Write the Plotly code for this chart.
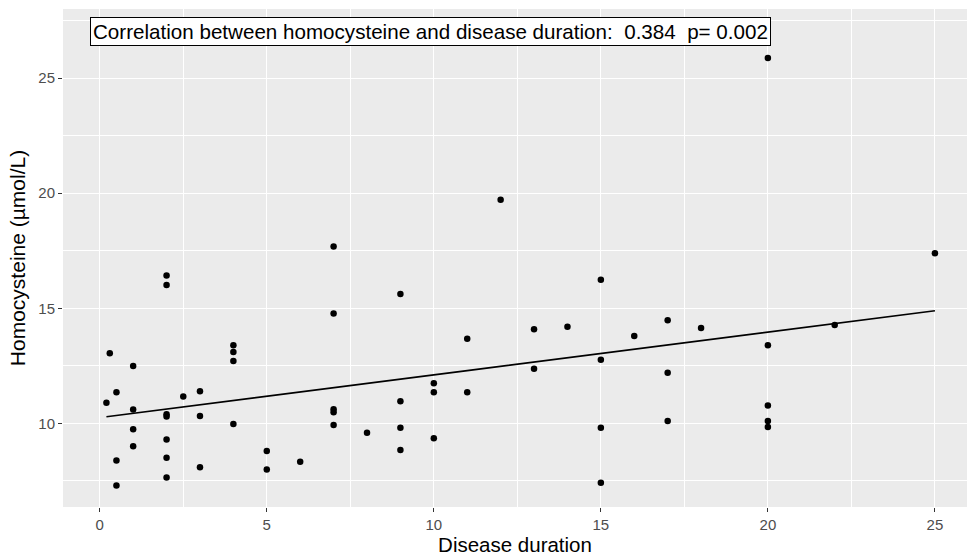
import numpy as np
import plotly.graph_objects as go

# Data
duration = [0.2, 0.3, 0.5, 0.5, 0.5,
            1, 1, 1, 1,
            2, 2, 2, 2, 2, 2, 2,
            2.5,
            3, 3, 3,
            4, 4, 4, 4,
            5, 5,
            6,
            7, 7, 7, 7, 7,
            8,
            9, 9, 9, 9,
            10, 10, 10,
            11, 11,
            12,
            13, 13,
            14,
            15, 15, 15, 15,
            16,
            17, 17, 17,
            18,
            20, 20, 20, 20, 20,
            22,
            25]
homocysteine = [10.9, 13.05, 11.35, 8.39, 7.30,
                12.49, 10.61, 9.75, 9.01,
                16.42, 16.01, 10.40, 10.30, 9.30, 8.51, 7.65,
                11.17,
                11.40, 10.32, 8.10,
                13.40, 13.10, 12.71, 9.98,
                8.80, 8.00,
                8.33,
                17.68, 14.77, 10.62, 10.48, 9.93,
                9.59,
                15.62, 10.96, 9.81, 8.85,
                11.75, 11.35, 9.36,
                13.68, 11.35,
                19.71,
                14.09, 12.37,
                14.20,
                16.24, 12.77, 9.81, 7.42,
                13.80,
                14.48, 12.20, 10.10,
                14.14,
                25.87, 13.40, 10.78, 10.11, 9.85,
                14.27,
                17.39]
label_text = "Correlation between homocysteine and disease duration:  0.384  p= 0.002"
x_ticks = [0, 5, 10, 15, 20, 25]
y_ticks = [10, 15, 20, 25]

xd = np.array(duration)
yd = np.array(homocysteine)
slope, intercept = np.polyfit(xd, yd, 1)
xs = np.sort(np.unique(xd))
ys = intercept + slope * xs

FONT = "Liberation Sans, Arial"

fig = go.Figure()
fig.add_trace(go.Scatter(x=duration, y=homocysteine, mode="markers",
                         marker=dict(color="black", size=6.5), showlegend=False))
fig.add_trace(go.Scatter(x=xs, y=ys, mode="lines",
                         line=dict(color="black", width=1.7), showlegend=False))

fig.add_annotation(x=-0.3, y=27.03, xref="x", yref="y", text=label_text,
                   showarrow=False, xanchor="left", yanchor="middle",
                   font=dict(family=FONT, size=20.6, color="black"),
                   bgcolor="white", bordercolor="black", borderwidth=1, borderpad=2)

axis_common = dict(showgrid=True, gridcolor="white", gridwidth=1.1,
                   zeroline=False, showline=False,
                   ticks="outside", ticklen=4, tickcolor="#333333", tickwidth=1,
                   tickfont=dict(family=FONT, size=15, color="#4D4D4D"))

fig.update_layout(
    width=967, height=556,
    margin=dict(l=63, r=0, t=9, b=49),
    paper_bgcolor="white", plot_bgcolor="#EBEBEB",
    xaxis=dict(range=[-1.1, 25.96], tickvals=x_ticks,
               title=dict(text="Disease duration", standoff=2,
                          font=dict(family=FONT, size=20.5, color="black")),
               minor=dict(showgrid=True, gridcolor="white", gridwidth=0.55, tick0=2.5, dtick=5, ticks=""),
               **axis_common),
    yaxis=dict(range=[6.37, 28.0], tickvals=y_ticks,
               title=dict(text="Homocysteine (µmol/L)", standoff=6,
                          font=dict(family=FONT, size=21, color="black")),
               minor=dict(showgrid=True, gridcolor="white", gridwidth=0.55, tick0=7.5, dtick=5, ticks=""),
               **axis_common),
)

fig.write_html("out.html")
